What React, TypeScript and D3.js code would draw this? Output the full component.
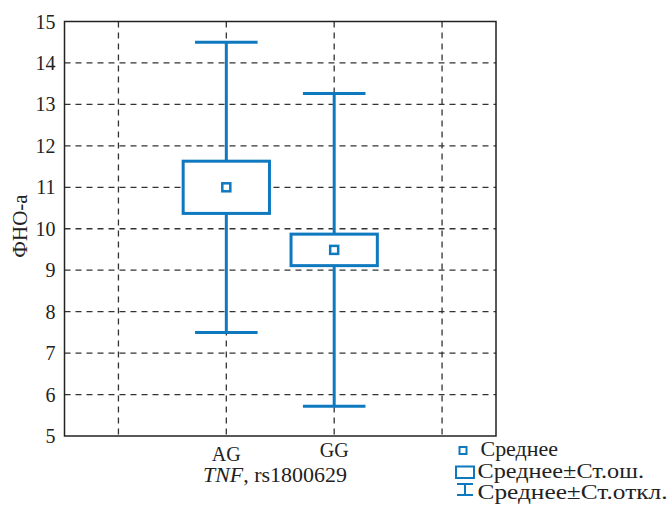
import * as d3 from "d3";

// genotype groups and their summary stats
const groups = ["AG", "GG"];
const means = [11.0, 9.49];
const stdErr = [0.63, 0.38];
const stdDev = [3.5, 3.77];

// x slots: empty slot on each side of the two groups
const slots = ["left", "AG", "GG", "right"];
const yTicks = [5, 6, 7, 8, 9, 10, 11, 12, 13, 14, 15];

const legendItems = ["Среднее", "Среднее±Ст.ош.", "Среднее±Ст.откл."];

const BLUE = "#0f79c0";
const FONT = "'Liberation Serif', 'Times New Roman', serif";

export default function App() {
  const width = 669;
  const height = 506;
  const margin = { top: 21.5, right: 173, bottom: 70, left: 64.5 };

  const x = d3
    .scalePoint<string>()
    .domain(slots)
    .range([margin.left, width - margin.right])
    .padding(0.5);
  const step = x.step();

  const y = d3.scaleLinear().domain([5, 15]).range([height - margin.bottom, margin.top]);

  const boxW = step * 0.8;
  const capW = step * 0.58;
  const markSize = 8;

  return (
    <svg
      width={width}
      height={height}
      style={{ position: "absolute", left: 0, top: 0, background: "#fff", fontFamily: FONT }}
    >
      {/* grid */}
      <g stroke="#333" strokeWidth={1.3} strokeDasharray="6,5">
        {yTicks.slice(1, -1).map((t) => (
          <line key={t} x1={margin.left} x2={width - margin.right} y1={y(t)} y2={y(t)} />
        ))}
        {slots.map((s) => (
          <line key={s} x1={x(s)} x2={x(s)} y1={margin.top} y2={height - margin.bottom} />
        ))}
      </g>

      {/* frame */}
      <rect
        x={margin.left}
        y={margin.top}
        width={width - margin.right - margin.left}
        height={height - margin.bottom - margin.top}
        fill="none"
        stroke="#222"
        strokeWidth={1.5}
      />

      {/* y tick labels */}
      {yTicks.map((t) => (
        <text key={t} x={margin.left - 9} y={y(t)} dy="0.35em" textAnchor="end" fontSize={20} fill="#222">
          {t}
        </text>
      ))}

      {/* boxes */}
      {groups.map((g, i) => {
        const cx = x(g) ?? 0;
        const hi = means[i] + stdDev[i];
        const lo = means[i] - stdDev[i];
        const boxTop = means[i] + stdErr[i];
        const boxBot = means[i] - stdErr[i];
        return (
          <g key={g} stroke={BLUE} strokeWidth={3} fill="none">
            <line x1={cx} x2={cx} y1={y(hi)} y2={y(boxTop)} />
            <line x1={cx} x2={cx} y1={y(boxBot)} y2={y(lo)} />
            <line x1={cx - capW / 2} x2={cx + capW / 2} y1={y(hi)} y2={y(hi)} />
            <line x1={cx - capW / 2} x2={cx + capW / 2} y1={y(lo)} y2={y(lo)} />
            <rect x={cx - boxW / 2} y={y(boxTop)} width={boxW} height={y(boxBot) - y(boxTop)} fill="#fff" />
            <rect
              x={cx - markSize / 2}
              y={y(means[i]) - markSize / 2}
              width={markSize}
              height={markSize}
              strokeWidth={2.5}
              fill="#fff"
            />
          </g>
        );
      })}

      {/* x tick labels */}
      <text x={x("AG")} y={461} textAnchor="middle" fontSize={20} fill="#222">
        {groups[0]}
      </text>
      <text x={x("GG")} y={457} textAnchor="middle" fontSize={20} fill="#222">
        {groups[1]}
      </text>
      <text x={203} y={482} fontSize={20} fill="#222" textLength={144} lengthAdjust="spacingAndGlyphs">
        <tspan fontStyle="italic">TNF</tspan>, rs1800629
      </text>

      {/* y axis title */}
      <text transform="translate(27, 226) rotate(-90)" textAnchor="middle" fontSize={21} fill="#222">
        ФНО-а
      </text>

      {/* legend */}
      <g fontSize={20} fill="#222">
        <rect x={459.5} y={447} width={7} height={7} fill="#fff" stroke={BLUE} strokeWidth={2} />
        <text x={480.5} y={456} textLength={77.5} lengthAdjust="spacingAndGlyphs">
          {legendItems[0]}
        </text>

        <rect x={456} y={466.5} width={18} height={11.5} fill="#fff" stroke={BLUE} strokeWidth={2} />
        <text x={477.5} y={477.5} textLength={166.5} lengthAdjust="spacingAndGlyphs">
          {legendItems[1]}
        </text>

        <g stroke={BLUE} strokeWidth={2}>
          <line x1={457} x2={473} y1={484} y2={484} />
          <line x1={457} x2={473} y1={495} y2={495} />
          <line x1={465} x2={465} y1={484} y2={495} />
        </g>
        <text x={477.5} y={498.5} textLength={190} lengthAdjust="spacingAndGlyphs">
          {legendItems[2]}
        </text>
      </g>
    </svg>
  );
}
